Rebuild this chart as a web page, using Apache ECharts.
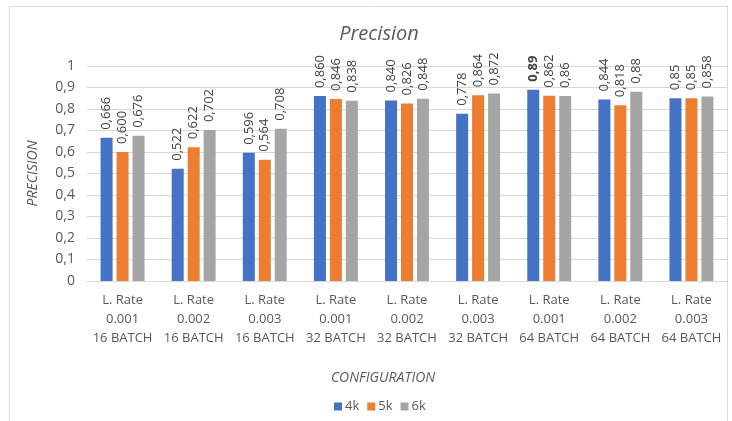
<!DOCTYPE html>
<html><head><meta charset="utf-8">
<script src="https://cdn.jsdelivr.net/npm/echarts@6/dist/echarts.min.js"></script>
<style>html,body{margin:0;padding:0;background:#fff}#c{width:732px;height:421px}</style>
</head><body><div id="c"></div>
<script>
var categories = [
  "L. Rate\n0.001\n16 BATCH","L. Rate\n0.002\n16 BATCH","L. Rate\n0.003\n16 BATCH",
  "L. Rate\n0.001\n32 BATCH","L. Rate\n0.002\n32 BATCH","L. Rate\n0.003\n32 BATCH",
  "L. Rate\n0.001\n64 BATCH","L. Rate\n0.002\n64 BATCH","L. Rate\n0.003\n64 BATCH"
];
var seriesNames = ["4k","5k","6k"];
var values4k = [0.666,0.522,0.596,0.860,0.840,0.778,0.89,0.844,0.85];
var values5k = [0.600,0.622,0.564,0.846,0.826,0.864,0.862,0.818,0.85];
var values6k = [0.676,0.702,0.708,0.838,0.848,0.872,0.86,0.88,0.858];
var labels4k = ["0,666","0,522","0,596","0,860","0,840","0,778","0,89","0,844","0,85"];
var labels5k = ["0,600","0,622","0,564","0,846","0,826","0,864","0,862","0,818","0,85"];
var labels6k = ["0,676","0,702","0,708","0,838","0,848","0,872","0,86","0,88","0,858"];
var yTicks = ["0","0,1","0,2","0,3","0,4","0,5","0,6","0,7","0,8","0,9","1"];

var colors = ["#4472C4","#ED7D31","#A5A5A5"];
var FONT = "Open Sans";
function mk(name, vals, labs, color, boldIdx) {
  return {
    name: name, type: "bar", barWidth: 12, barGap: "33%",
    itemStyle: {color: color},
    data: vals.map(function(v, i){
      var d = {value: v};
      if (i === boldIdx) d.label = {fontWeight: "bold"};
      return d;
    }),
    label: {
      show: true, position: "top", rotate: 90, align: "left", verticalAlign: "middle",
      distance: 8, fontFamily: FONT, fontSize: 13, color: "#404040",
      formatter: function(p){ return labs[p.dataIndex]; }
    }
  };
}
var chart = echarts.init(document.getElementById("c"));
chart.setOption({
  animation: false,
  textStyle: {fontFamily: FONT},
  title: [
    {text: "Precision", left: 374, top: 19, textAlign: "center",
     textStyle: {fontFamily: FONT, fontStyle: "italic", fontWeight: "normal", fontSize: 20, color: "#595959"}},
    {text: "CONFIGURATION", left: 378, top: 366, textAlign: "center",
     textStyle: {fontFamily: FONT, fontStyle: "italic", fontWeight: "normal", fontSize: 14, color: "#595959"}}
  ],
  graphic: [{type: "rect", shape: {x: 9.5, y: 6.5, width: 718, height: 430}, style: {fill: "none", stroke: "#d9d9d9", lineWidth: 1}, silent: true}],
  legend: {
    data: seriesNames, left: 329, top: 395, icon: "rect", itemWidth: 8, itemHeight: 8, itemGap: 8,
    textStyle: {fontFamily: FONT, fontSize: 13, color: "#595959", padding: [0,0,0,-2]}
  },
  grid: {left: 87, right: 5, top: 66, bottom: 140, containLabel: false},
  xAxis: {
    type: "category", data: categories,
    axisLine: {lineStyle: {color: "#d9d9d9"}}, axisTick: {show: false},
    axisLabel: {fontFamily: FONT, fontSize: 13, color: "#595959", lineHeight: 19, margin: 10, interval: 0}
  },
  yAxis: {
    type: "value", min: 0, max: 1, interval: 0.1,
    name: "PRECISION", nameLocation: "middle", nameGap: 47, nameRotate: 90,
    nameTextStyle: {fontFamily: FONT, fontStyle: "italic", fontSize: 14, color: "#595959"},
    axisLine: {show: false}, axisTick: {show: false},
    splitLine: {lineStyle: {color: "#d9d9d9"}},
    axisLabel: {fontFamily: FONT, fontSize: 14, color: "#595959", margin: 12,
      formatter: function(v){ return yTicks[Math.round(v*10)]; }}
  },
  series: [
    mk("4k", values4k, labels4k, colors[0], 6),
    mk("5k", values5k, labels5k, colors[1], -1),
    mk("6k", values6k, labels6k, colors[2], -1)
  ]
});
</script></body></html>
